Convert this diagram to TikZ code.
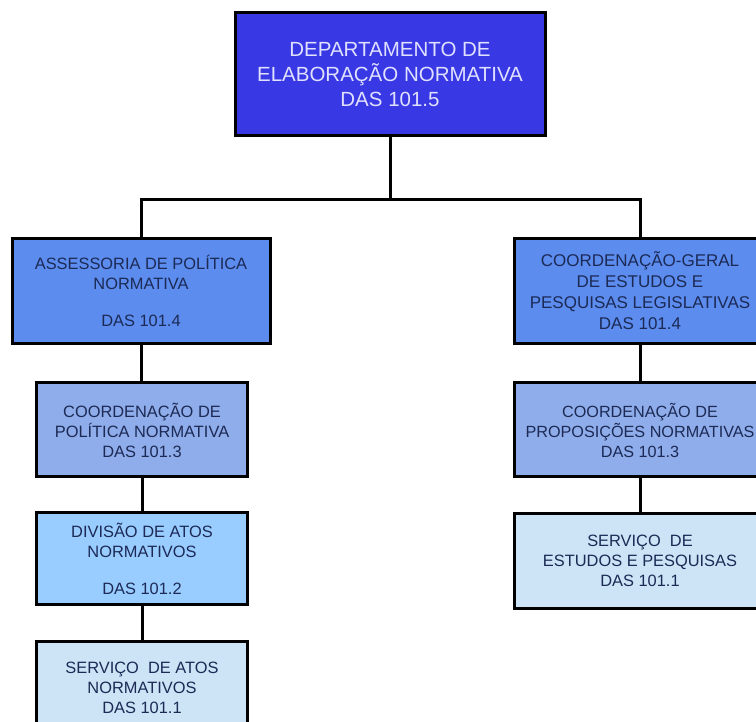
\documentclass[tikz,border=0pt]{standalone}
\usepackage{fontspec}
\setmainfont{Liberation Sans}
\usepackage{xcolor}
\definecolor{depblue}{HTML}{3838E4}
\definecolor{lvlone}{HTML}{5B8CEE}
\definecolor{lvltwo}{HTML}{8FADEA}
\definecolor{lvlthree}{HTML}{99CCFF}
\definecolor{lvlfour}{HTML}{CCE4F6}
\definecolor{navytext}{HTML}{1C2A55}
\tikzset{
    org-box/.style = {draw=black, line width=3pt, rectangle, align=center, inner sep=2pt, text=navytext, font=\fontsize{16.4}{20}\selectfont},
    org-top/.style = {org-box, fill=depblue, text=white!88!blue, font=\fontsize{20.5}{25}\selectfont, minimum width=310pt, minimum height=123pt},
    org-link/.style = {draw=black, line width=3pt},
}

\begin{document}
\begin{tikzpicture}[x=1pt, y=1pt]
\useasboundingbox (0,0) rectangle (756,722);
\clip (0,0) rectangle (756,722);
\node [org-top] (dep) at (390,648) {DEPARTAMENTO DE\\ELABORAÇÃO NORMATIVA\\DAS 101.5};
% left branch
\node [org-box, fill=lvlone, minimum width=258pt, minimum height=105pt] (asp) at (141,431) {ASSESSORIA DE POLÍTICA\\NORMATIVA\\[17pt]DAS 101.4};
\node [org-box, fill=lvltwo, minimum width=211pt, minimum height=94pt] (cpn) at (142,292) {COORDENAÇÃO DE\\POLÍTICA NORMATIVA\\DAS 101.3};
\node [org-box, fill=lvlthree, minimum width=211pt, minimum height=92pt] (dan) at (142,163) {DIVISÃO DE ATOS\\NORMATIVOS\\[17pt]DAS 101.2};
\node [org-box, fill=lvlfour, minimum width=211pt, minimum height=93pt] (san) at (142,34) {SERVIÇO\ \ DE ATOS\\NORMATIVOS\\DAS 101.1};
% right branch
\node [org-box, fill=lvlone, minimum width=252pt, minimum height=105pt, font=\fontsize{17}{21}\selectfont] (cge) at (640,431) {COORDENAÇÃO-GERAL\\DE ESTUDOS E\\PESQUISAS LEGISLATIVAS\\DAS 101.4};
\node [org-box, fill=lvltwo, minimum width=252pt, minimum height=94pt, font=\fontsize{16.2}{20}\selectfont] (cpr) at (640,292) {COORDENAÇÃO DE\\PROPOSIÇÕES NORMATIVAS\\DAS 101.3};
\node [org-box, fill=lvlfour, minimum width=252pt, minimum height=95pt] (sep) at (640,161) {SERVIÇO\ \ DE\\ESTUDOS E PESQUISAS\\DAS 101.1};
% links
\coordinate (bus) at (390,522);
\draw [org-link] (dep.south) -- (bus) -| (asp.north);
\draw [org-link] (bus) -| (cge.north);
\draw [org-link] (asp.south) -- (asp.south |- cpn.north);
\draw [org-link] (cpn.south) -- (dan.north);
\draw [org-link] (dan.south) -- (san.north);
\draw [org-link] (cge.south) -- (cpr.north);
\draw [org-link] (cpr.south) -- (sep.north);
\end{tikzpicture}
\end{document}
